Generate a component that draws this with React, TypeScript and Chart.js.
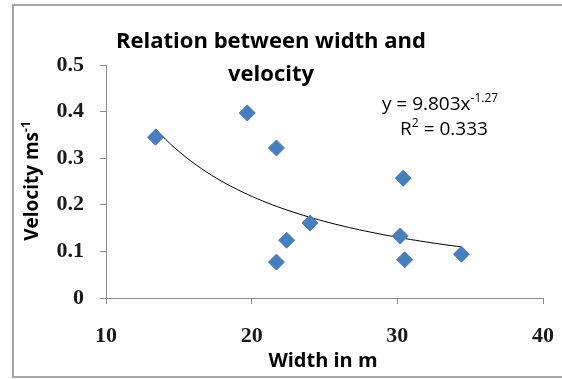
import React, { useEffect, useRef } from "react";
import Chart from "chart.js/auto";

// Data
const widths = [13.4, 19.7, 21.7, 21.7, 22.4, 24.0, 30.4, 30.2, 30.5, 34.4];
const velocities = [0.345, 0.397, 0.322, 0.077, 0.124, 0.161, 0.257, 0.133, 0.082, 0.094];
const xTickValues = [10, 20, 30, 40];
const yTickValues = [0, 0.1, 0.2, 0.3, 0.4, 0.5];
// Power trendline shown on the chart: y = 9.803 x^-1.27, R² = 0.333
const TREND_COEF = 9.803;
const TREND_EXP = -1.27;
const TREND_SAMPLES = 60;

const titleLines = ["Relation between width and", "velocity"];
const xTitle = "Width in m";
const yTitleMain = "Velocity ms";
const yTitleSup = "-1";
const eqMain = "y = 9.803x";
const eqSup = "-1.27";
const r2Main = "R";
const r2Sup = "2";
const r2Rest = " = 0.333";

const SANS = "'Open Sans', sans-serif";
const SERIF = "'Liberation Serif', 'Times New Roman', serif";

function drawSupText(ctx: CanvasRenderingContext2D, parts: { t: string; sup?: boolean }[], cx: number, baseline: number, size: number, weight: string) {
  const supSize = Math.round(size * 0.62);
  let total = 0;
  for (const p of parts) {
    ctx.font = `${weight} ${p.sup ? supSize : size}px ${SANS}`;
    total += ctx.measureText(p.t).width;
  }
  let x = cx - total / 2;
  ctx.textAlign = "left";
  ctx.textBaseline = "alphabetic";
  for (const p of parts) {
    ctx.font = `${weight} ${p.sup ? supSize : size}px ${SANS}`;
    ctx.fillText(p.t, x, p.sup ? baseline - size * 0.42 : baseline);
    x += ctx.measureText(p.t).width;
  }
}

const decorPlugin = {
  id: "decor",
  beforeDraw(chart: any) {
    const ctx = chart.ctx as CanvasRenderingContext2D;
    ctx.save();
    ctx.fillStyle = "#ffffff";
    ctx.fillRect(0, 0, chart.width, chart.height);
    ctx.strokeStyle = "#a6a6a6";
    ctx.lineWidth = 2;
    ctx.strokeRect(13, 5, chart.width + 20, chart.height - 7);
    ctx.restore();
  },
  afterDraw(chart: any) {
    const ctx = chart.ctx as CanvasRenderingContext2D;
    ctx.save();
    ctx.fillStyle = "#000000";
    // Title
    ctx.font = `bold 22px ${SANS}`;
    ctx.textAlign = "center";
    ctx.textBaseline = "alphabetic";
    ctx.fillText(titleLines[0], 271, 48);
    ctx.fillText(titleLines[1], 271, 81);
    // X axis title
    ctx.font = `bold 20px ${SANS}`;
    ctx.fillText(xTitle, 323, 367);
    // Y axis title (rotated)
    ctx.save();
    ctx.translate(38, 181);
    ctx.rotate(-Math.PI / 2);
    drawSupText(ctx, [{ t: yTitleMain }, { t: yTitleSup, sup: true }], 0, 0, 19, "bold");
    ctx.restore();
    // Equation
    drawSupText(ctx, [{ t: eqMain }, { t: eqSup, sup: true }], 440, 110, 19, "normal");
    drawSupText(ctx, [{ t: r2Main }, { t: r2Sup, sup: true }, { t: r2Rest }], 444, 135, 19, "normal");
    ctx.restore();
  },
};

export default function App() {
  const canvasRef = useRef<HTMLCanvasElement | null>(null);

  useEffect(() => {
    if (!canvasRef.current) return;
    const xMin = Math.min(...widths);
    const xMax = Math.max(...widths);
    const trend: { x: number; y: number }[] = [];
    for (let i = 0; i <= TREND_SAMPLES; i++) {
      const x = xMin + ((xMax - xMin) * i) / TREND_SAMPLES;
      trend.push({ x, y: TREND_COEF * Math.pow(x, TREND_EXP) });
    }
    const points = widths.map((w, i) => ({ x: w, y: velocities[i] }));

    const axisColor = "#8c8c8c";
    const chart = new Chart(canvasRef.current, {
      type: "scatter",
      data: {
        datasets: [
          {
            label: "Trend",
            data: trend,
            showLine: true,
            borderColor: "#000000",
            borderWidth: 1,
            pointRadius: 0,
            fill: false,
            order: 2,
          } as any,
          {
            label: "Velocity",
            data: points,
            pointStyle: "rectRot",
            pointRadius: 8,
            backgroundColor: "#4a7ebb",
            borderColor: "#4a7ebb",
            borderWidth: 1,
            order: 1,
          },
        ],
      },
      options: {
        animation: false,
        responsive: false,
        devicePixelRatio: 1,
        layout: { autoPadding: false, padding: { left: 13, right: 19, top: 65, bottom: 0 } },
        plugins: {
          legend: { display: false },
          tooltip: { enabled: false },
          title: { display: false },
        },
        scales: {
          x: {
            type: "linear",
            min: 10,
            max: 40,
            afterBuildTicks: (s: any) => {
              s.ticks = xTickValues.map((v) => ({ value: v }));
            },
            afterFit: (s: any) => {
              s.height = 81;
              s.paddingLeft = 0;
              s.paddingRight = 0;
            },
            grid: { display: true, drawOnChartArea: false, drawTicks: true, tickLength: 6, color: axisColor },
            border: { display: true, color: axisColor, width: 1 },
            ticks: {
              font: { family: SERIF, size: 22, weight: "bold" },
              color: "#1a1a1a",
              padding: 19,
              maxRotation: 0,
              callback: (v: any) => String(v),
            },
          },
          y: {
            type: "linear",
            min: 0,
            max: 0.5,
            afterBuildTicks: (s: any) => {
              s.ticks = yTickValues.map((v) => ({ value: v }));
            },
            afterFit: (s: any) => {
              s.width = 93;
              s.paddingTop = 0;
              s.paddingBottom = 0;
            },
            grid: { display: true, drawOnChartArea: false, drawTicks: true, tickLength: 6, color: axisColor },
            border: { display: true, color: axisColor, width: 1 },
            ticks: {
              font: { family: SERIF, size: 22, weight: "bold" },
              color: "#1a1a1a",
              padding: 16,
              callback: (v: any) => (v === 0 ? "0" : Number(v).toFixed(1)),
            },
          },
        },
      },
      plugins: [decorPlugin],
    });
    return () => chart.destroy();
  }, []);

  return (
    <div style={{ position: "fixed", left: 0, top: 0, width: 562, height: 379 }}>
      <canvas ref={canvasRef} width={562} height={379} style={{ display: "block" }} />
    </div>
  );
}
